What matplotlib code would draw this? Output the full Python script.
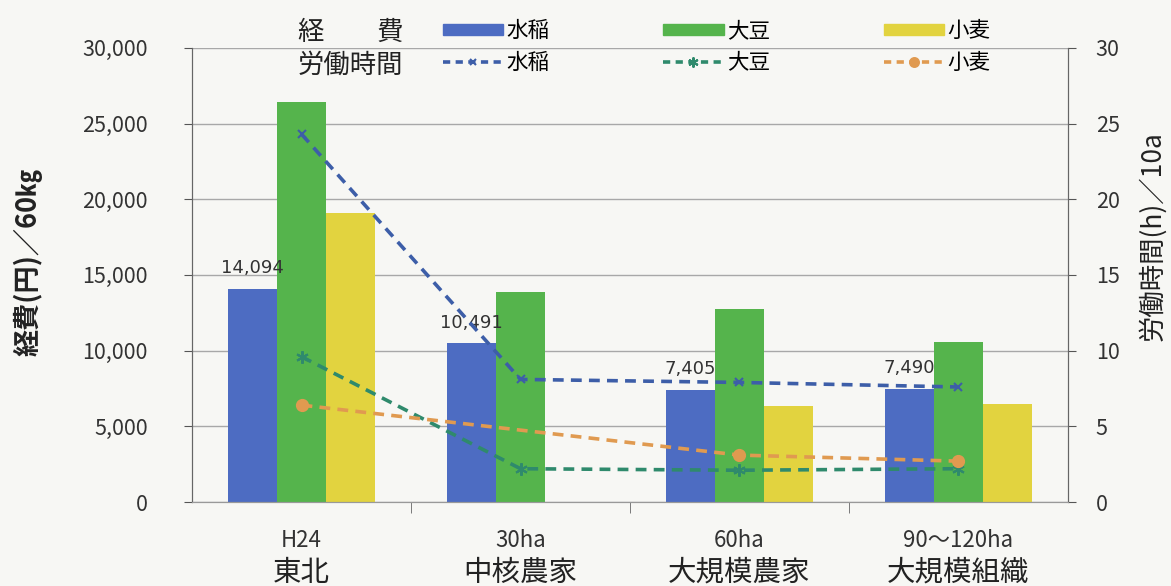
import numpy as np
import matplotlib.pyplot as plt
from matplotlib.lines import Line2D
from matplotlib.patches import Patch
from matplotlib.transforms import blended_transform_factory

plt.rcParams['font.family'] = ['Noto Sans CJK JP', 'DejaVu Sans']

# データ
cat_top = ['H24', '30ha', '60ha', '90～120ha']
cat_bottom = ['東北', '中核農家', '大規模農家', '大規模組織']
crops = ['水稲', '大豆', '小麦']

cost_rice = [14094, 10491, 7405, 7490]
cost_soy = [26400, 13900, 12750, 10600]
cost_wheat = [19100, np.nan, 6350, 6450]

hours_rice = [24.3, 8.1, 7.9, 7.6]
hours_soy = [9.6, 2.2, 2.1, 2.2]
hours_wheat = [6.4, np.nan, 3.1, 2.7]

bar_colors = ['#4d6cc2', '#55b44c', '#e2d33f']
line_colors = ['#3d5ea8', '#2f8a6c', '#e09a50']
bg = '#f7f7f4'

fig = plt.figure(figsize=(11.71, 5.86), dpi=100, facecolor=bg)
ax = fig.add_axes([0.164, 0.1433, 0.748, 0.775], facecolor=bg)
ax2 = ax.twinx()

x = np.arange(len(cat_top))
w = 0.223
for i, (vals, col) in enumerate(zip([cost_rice, cost_soy, cost_wheat], bar_colors)):
    ax.bar(x + (i - 1) * w, vals, width=w, color=col, zorder=2)

# 水稲の値ラベル
for xi, v in zip(x, cost_rice):
    ax.text(xi - w, v + 1350, f'{v:,}', ha='center', va='center', fontsize=13,
            family='DejaVu Sans', color='#333333', zorder=4)

# 労働時間の折れ線
line_specs = [
    (hours_rice, line_colors[0], 'x', 6),
    (hours_soy, line_colors[1], (6, 2, 0), 9),
    (hours_wheat, line_colors[2], 'o', 8),
]
for vals, col, mk, ms in line_specs:
    v = np.array(vals, dtype=float)
    ok = ~np.isnan(v)
    ax2.plot(x[ok], v[ok], color=col, ls=(0, (3, 2)), lw=2.6, marker=mk,
             markersize=ms, markeredgewidth=1.5, zorder=3)

ax.set_xlim(-0.5, 3.5)
ax.set_ylim(0, 30000)
ax2.set_ylim(0, 30)
ax.set_yticks(range(0, 30001, 5000))
ax.set_yticklabels([f'{t:,}' for t in range(0, 30001, 5000)])
ax2.set_yticks(range(0, 31, 5))

ax.grid(axis='y', color='#a8a8a8', lw=1, zorder=0)
ax.set_axisbelow(True)
for a in (ax, ax2):
    a.spines['top'].set_visible(False)
    a.spines['left'].set_color('#666666')
    a.spines['right'].set_color('#666666')
    a.spines['bottom'].set_color('#999999')
ax.tick_params(axis='y', length=6, pad=26, labelsize=15.5, colors='#555555',
               labelcolor='#333333')
ax2.tick_params(axis='y', length=6, pad=14, labelsize=15.5, colors='#555555',
                labelcolor='#333333')

# 横軸ラベル(2段)
ax.set_xticks(x)
ax.set_xticklabels([])
ax.tick_params(axis='x', which='major', length=0)
ax.set_xticks([0.5, 1.5, 2.5], minor=True)
ax.tick_params(axis='x', which='minor', length=8, color='#666666')
tr = blended_transform_factory(ax.transData, ax.transAxes)
for xi, t1, t2 in zip(x, cat_top, cat_bottom):
    ax.text(xi, -0.084, t1, transform=tr, ha='center', va='center',
            fontsize=16, color='#333333')
    ax.text(xi, -0.156, t2, transform=tr, ha='center', va='center',
            fontsize=20.5, color='#222222')

fig.text(0.024, 0.553, '経費(円)／60㎏', rotation=90, ha='center', va='center',
         fontsize=19.5, fontweight='bold', color='#222222')
fig.text(0.984, 0.597, '労働時間(h)／10a', rotation=90, ha='center', va='center',
         fontsize=19, color='#222222')

# 凡例
fig.text(0.2545, 0.944, '経　　費', ha='left', va='center', fontsize=19, color='#222222')
fig.text(0.2545, 0.889, '労働時間', ha='left', va='center', fontsize=19, color='#222222')
handles = []
for i in range(3):
    handles.append(Patch(color=bar_colors[i]))
    vals, col, mk, ms = line_specs[i]
    handles.append(Line2D([], [], color=col, ls=(0, (2, 1.5)), lw=2.6, marker=mk,
                          markersize=ms * 0.8, markeredgewidth=1.5))
labels = []
for c in crops:
    labels += [c, c]
fig.legend(handles, labels, ncol=3, loc='center left',
           bbox_to_anchor=(0.378, 0.92), frameon=False, fontsize=15.5,
           handlelength=2.8, handleheight=0.45, handletextpad=0.15,
           columnspacing=5.3, labelspacing=0.45, borderpad=0, borderaxespad=0)

fig.savefig('out.png', dpi=100, facecolor=bg)
